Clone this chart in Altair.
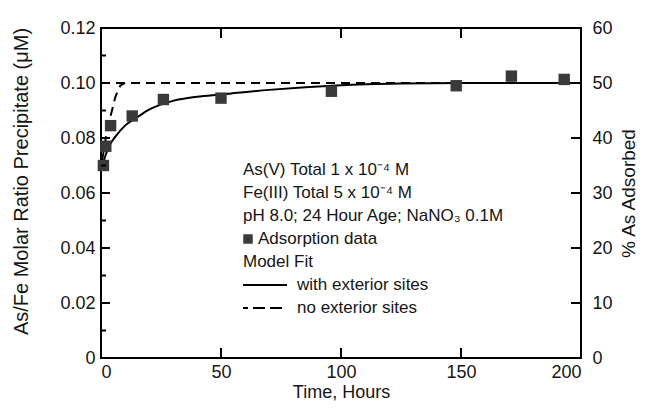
import altair as alt
import pandas as pd

# ---- data ----
obs_time = [1, 2, 4, 13, 26, 50, 96, 148, 171, 193]
obs_ratio = [0.070, 0.077, 0.0845, 0.088, 0.094, 0.0945, 0.097, 0.099, 0.1025, 0.1013]

fit_time = [0, 2, 4, 6, 10, 15, 20, 30, 40, 50, 70, 100, 125, 150, 200]
fit_ratio = [0.068, 0.074, 0.078, 0.0805, 0.0845, 0.0875, 0.0903, 0.0935, 0.095, 0.0958,
             0.0975, 0.0992, 0.0998, 0.1000, 0.1000]

noext_time = [0.5, 2, 4, 6, 8, 10]
noext_ratio = [0.072, 0.080, 0.088, 0.095, 0.099, 0.100]
plateau_time = [0, 200]
plateau_ratio = [0.10, 0.10]

x_ticks_inner = [50, 100, 150]
y_ticks_major = [0.02, 0.04, 0.06, 0.08, 0.10]
y_ticks_minor = [0.01, 0.03, 0.05, 0.07, 0.09, 0.11]
right_ticks = [10, 20, 30, 40]

note_lines = [
    "As(V) Total 1 x 10\u207b\u2074 M",
    "Fe(III) Total 5 x 10\u207b\u2074 M",
    "pH 8.0; 24 Hour Age; NaNO\u2083 0.1M",
    "Adsorption data",
    "Model Fit",
    "with exterior sites",
    "no exterior sites",
]
note_indent = [0, 0, 0, 15, 0, 54, 54]

W, H = 480, 330
FONT = "Liberation Sans"
LFS = 18   # tick labels
TFS = 19   # axis titles
NFS = 17   # annotation
INK = "#151515"

xs = alt.Scale(domain=[0, 200], nice=False, zero=False)
ys = alt.Scale(domain=[0, 0.12], nice=False)

x_axis = alt.Axis(values=[0, 50, 100, 150, 200], title="Time, Hours", ticks=False, domain=False,
                  grid=False, labelPadding=5, titlePadding=2, labelFontSize=LFS, titleFontSize=18,
                  labelFont=FONT, titleFont=FONT, titleFontWeight="normal", labelColor=INK, titleColor=INK)
y_axis = alt.Axis(values=[0, 0.02, 0.04, 0.06, 0.08, 0.10, 0.12], orient="left",
                  labelExpr="datum.value == 0 ? '0' : format(datum.value, '.2f')",
                  title="As/Fe Molar Ratio Precipitate (\u03bcM)", ticks=False, domain=False, grid=False,
                  labelPadding=6, titlePadding=28, titleY=153, labelFontSize=LFS, titleFontSize=20,
                  labelFont=FONT, titleFont=FONT, titleFontWeight="normal", labelColor=INK, titleColor=INK)

fit_df = pd.DataFrame({"t": fit_time, "r": fit_ratio})
obs_df = pd.DataFrame({"t": obs_time, "r": obs_ratio})
dash_df = pd.concat([
    pd.DataFrame({"t": plateau_time, "r": plateau_ratio, "seg": "plateau"}),
    pd.DataFrame({"t": noext_time, "r": noext_ratio, "seg": "rise"}),
])

fit = alt.Chart(fit_df).mark_line(color="black", strokeWidth=2, interpolate="monotone").encode(
    x=alt.X("t:Q", scale=xs, axis=x_axis),
    y=alt.Y("r:Q", scale=ys, axis=y_axis),
)
dashed = alt.Chart(dash_df).mark_line(color="black", strokeWidth=2, strokeDash=[9, 6]).encode(
    x=alt.X("t:Q", scale=xs), y=alt.Y("r:Q", scale=ys), detail="seg:N"
)
pts = alt.Chart(obs_df).mark_square(size=130, color="#3a3a3a", opacity=1).encode(
    x=alt.X("t:Q", scale=xs), y=alt.Y("r:Q", scale=ys)
)

ymaj = alt.Chart(pd.DataFrame({"v": y_ticks_major})).mark_rule(color="black", strokeWidth=2).encode(
    y=alt.Y("v:Q", scale=ys), x=alt.value(0), x2=alt.value(9))
ymin = alt.Chart(pd.DataFrame({"v": y_ticks_minor})).mark_rule(color="black", strokeWidth=2).encode(
    y=alt.Y("v:Q", scale=ys), x=alt.value(0), x2=alt.value(5))
xbot = alt.Chart(pd.DataFrame({"v": x_ticks_inner})).mark_rule(color="black", strokeWidth=2).encode(
    x=alt.X("v:Q", scale=xs), y=alt.value(H), y2=alt.value(H - 10))
xtop = alt.Chart(pd.DataFrame({"v": x_ticks_inner})).mark_rule(color="black", strokeWidth=2).encode(
    x=alt.X("v:Q", scale=xs), y=alt.value(0), y2=alt.value(10))

notes_df = pd.DataFrame({"line": note_lines, "i": range(len(note_lines)), "dx": note_indent})
notes = alt.Chart(notes_df).mark_text(align="left", baseline="middle", fontSize=NFS, font=FONT,
                                       color=INK).transform_calculate(
    px="142 + datum.dx", py="142 + datum.i * 23"
).encode(x=alt.X("px:Q", scale=None), y=alt.Y("py:Q", scale=None), text="line:N")

leg_sq = alt.Chart(pd.DataFrame({"k": [0]})).mark_square(size=90, color="#3a3a3a", opacity=1).encode(
    x=alt.value(147), y=alt.value(142 + 3 * 23))
leg_solid = alt.Chart(pd.DataFrame({"k": [0]})).mark_rule(color="black", strokeWidth=2).encode(
    x=alt.value(142), x2=alt.value(186), y=alt.value(142 + 5 * 23))
leg_dash = alt.Chart(pd.DataFrame({"k": [0]})).mark_rule(color="black", strokeWidth=2,
                                                         strokeDash=[5, 5, 12, 5, 12, 5]).encode(
    x=alt.value(142), x2=alt.value(186), y=alt.value(142 + 6 * 23))

left = alt.layer(fit, dashed, pts, ymaj, ymin, xbot, xtop, notes, leg_sq, leg_solid, leg_dash)

right = alt.Chart(pd.DataFrame({"v": right_ticks})).mark_rule(color="black", strokeWidth=2).encode(
    y=alt.Y("v:Q", scale=alt.Scale(domain=[0, 60], nice=False),
            axis=alt.Axis(orient="right", values=[0, 10, 20, 30, 40, 50, 60], title="% As Adsorbed",
                          ticks=False, domain=False, grid=False, labelPadding=11, titlePadding=26,
                          titleAngle=270, labelFontSize=LFS, titleFontSize=TFS, labelFont=FONT,
                          titleFont=FONT, titleFontWeight="normal", labelColor=INK, titleColor=INK)),
    x=alt.value(W), x2=alt.value(W - 10),
)

chart = alt.layer(left, right).resolve_scale(y="independent").properties(
    width=W, height=H,
    autosize=alt.AutoSizeParams(type="none"),
    padding={"left": 93, "top": 20, "right": 59, "bottom": 46},
    background="white",
).configure_view(stroke="black", strokeWidth=2)

chart.save("out.html", embed_options={"renderer": "svg", "actions": False})
